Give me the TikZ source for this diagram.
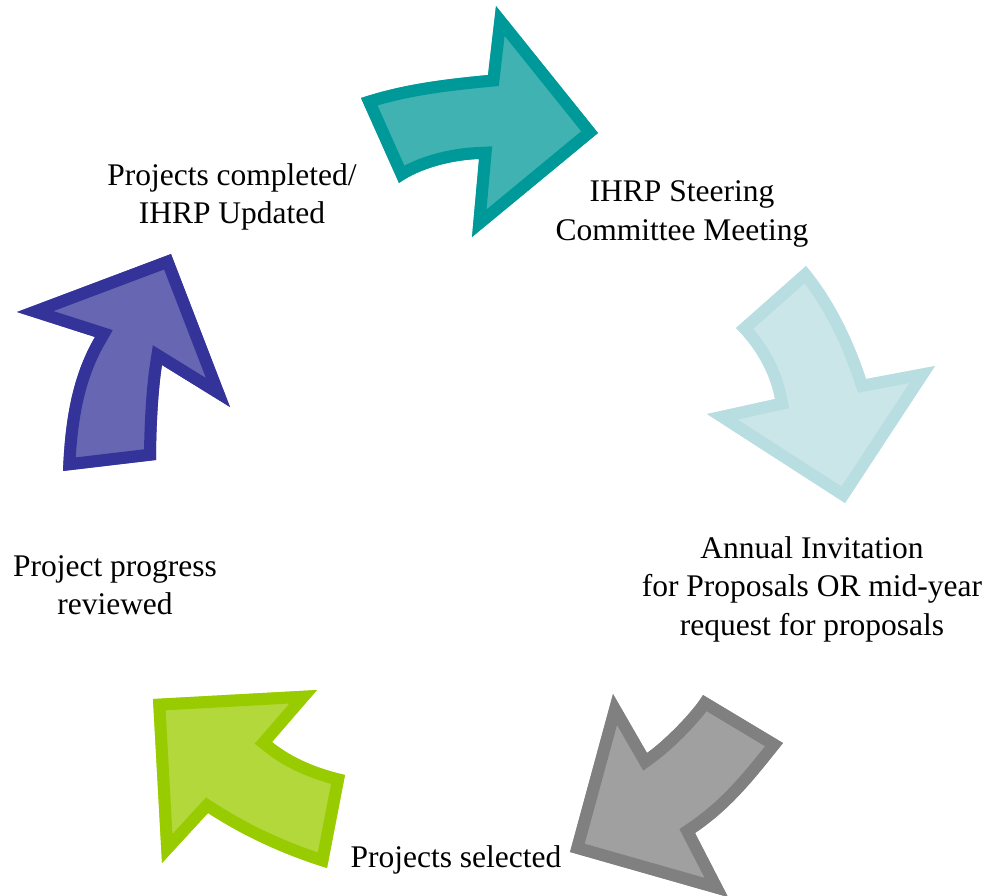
\documentclass[tikz,border=0pt]{standalone}
\usepackage{fontspec}
\setmainfont{Liberation Serif}
\definecolor{tealS}{RGB}{0,153,153}
\definecolor{tealF}{RGB}{64,178,178}
\definecolor{lblueS}{RGB}{184,222,226}
\definecolor{lblueF}{RGB}{203,230,233}
\definecolor{grayS}{RGB}{128,128,128}
\definecolor{grayF}{RGB}{160,160,160}
\definecolor{greenS}{RGB}{153,204,0}
\definecolor{greenF}{RGB}{178,216,60}
\definecolor{purpS}{RGB}{51,51,153}
\definecolor{purpF}{RGB}{102,102,178}
\newcommand\cyclearrow[3]{%
  \fill[#1] #3;
  \begin{scope}
    \clip #3;
    \draw[#2, line width=24pt, line join=miter, miter limit=20] #3;
  \end{scope}}
\tikzset{lbl/.style={align=center, inner sep=0pt, font=\fontsize{31.5}{38.5}\selectfont}}
\begin{document}
\begin{tikzpicture}[x=1pt,y=-1pt]
\useasboundingbox (0,0) rectangle (990,895);
% teal arrow (top)
\cyclearrow{tealF}{tealS}{(361,98) .. controls (403,84) and (446,79) .. (488,75) -- (496,6) -- (598,133) -- (472,237) -- (479,159) .. controls (452,160) and (420,168) .. (399,183) -- cycle}
% light blue arrow (right)
\cyclearrow{lblueF}{lblueS}{(806,266) .. controls (833,298) and (853,339) .. (866,379) -- (935,366) -- (845,503) -- (707,414) -- (775,399) .. controls (770,372) and (755,347) .. (736,328) -- cycle}
% gray arrow (bottom right)
\cyclearrow{grayF}{grayS}{(703,695) -- (783,743) .. controls (755,778) and (732,808) .. (695,833) -- (728,897) -- (570,852) -- (613,694) -- (647,753) .. controls (664,741) and (693,712) .. (703,695) -- cycle}
% green arrow (bottom left)
\cyclearrow{greenF}{greenS}{(153,699) -- (317,690) -- (272,742) .. controls (293,759) and (319,769) .. (345,775) -- (327,868) .. controls (285,855) and (245,837) .. (208,813) -- (162,863) -- cycle}
% purple arrow (left)
\cyclearrow{purpF}{purpS}{(17,312) -- (95,337) .. controls (71,378) and (65,424) .. (63,471) -- (156,460) .. controls (156,430) and (158,390) .. (162,365) -- (230,407) -- (171,254) -- cycle}
% labels
\node[lbl] (steer) at (682,214) {IHRP Steering\\Committee Meeting};
\node[lbl] (invite) at (812,589) {Annual Invitation\\for Proposals OR mid-year\\request for proposals};
\node[lbl] (select) at (456,860) {Projects selected};
\node[lbl] (review) at (115,585) {Project progress\\reviewed};
\node[lbl] (done) at (232,197) {Projects completed/\\IHRP Updated};
\end{tikzpicture}
\end{document}
